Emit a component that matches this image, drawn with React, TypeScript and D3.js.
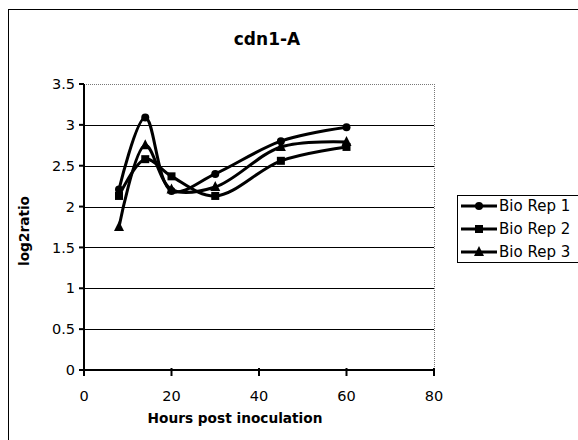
import React from "react";
import * as d3 from "d3";

const hours = [8, 14, 20, 30, 45, 60];
const rep1 = [2.21, 3.09, 2.19, 2.4, 2.8, 2.97];
const rep2 = [2.13, 2.58, 2.37, 2.13, 2.56, 2.73];
const rep3 = [1.75, 2.75, 2.21, 2.24, 2.73, 2.79];
const seriesNames = ["Bio Rep 1", "Bio Rep 2", "Bio Rep 3"];
const markerTypes = ["circle", "square", "triangle"];
const xTicks = [0, 20, 40, 60, 80];
const yTicks = [0, 0.5, 1, 1.5, 2, 2.5, 3, 3.5];

const W = 578;
const H = 440;
const font = "'DejaVu Sans', Verdana, sans-serif";

function Marker({ type, x, y }: { type: string; x: number; y: number }) {
  if (type === "circle") return <circle cx={x} cy={y} r={4} fill="#000" />;
  if (type === "square") return <rect x={x - 4} y={y - 4} width={8} height={8} fill="#000" />;
  const s = 5;
  return <path d={`M${x},${y - s - 1}L${x + s},${y + s - 1}L${x - s},${y + s - 1}Z`} fill="#000" />;
}

export default function App() {
  const x = d3.scaleLinear().domain([0, 80]).range([84, 434]);
  const y = d3.scaleLinear().domain([0, 3.5]).range([370, 84]);
  const series = [rep1, rep2, rep3];
  const line = d3
    .line<number>()
    .x((_, i) => x(hours[i]))
    .y((d) => y(d))
    .curve(d3.curveCatmullRom.alpha(0.5));

  return (
    <svg width={W} height={H} style={{ position: "absolute", left: 0, top: 0, background: "#fff" }}>
      <rect x={8.5} y={9.5} width={W} height={H} fill="#fff" stroke="#000" strokeWidth={1} />
      <text x={267} y={45} textAnchor="middle" fontFamily={font} fontWeight="bold" fontSize={17}>
        cdn1-A
      </text>
      {/* plot border */}
      <line x1={84} x2={434.5} y1={84.5} y2={84.5} stroke="#777" strokeDasharray="1,1" />
      <line x1={434.5} x2={434.5} y1={84} y2={370} stroke="#777" strokeDasharray="1,1" />
      {/* gridlines */}
      {yTicks.slice(1, -1).map((t) => (
        <line key={t} x1={84} x2={434} y1={Math.round(y(t)) + 0.5} y2={Math.round(y(t)) + 0.5} stroke="#000" strokeWidth={1} />
      ))}
      {/* axes */}
      <line x1={84} x2={84} y1={84} y2={371} stroke="#000" strokeWidth={2} />
      <line x1={83} x2={435} y1={370} y2={370} stroke="#000" strokeWidth={2} />
      {yTicks.map((t) => (
        <g key={t}>
          <line x1={79} x2={84} y1={y(t)} y2={y(t)} stroke="#000" strokeWidth={2} />
          <text x={75} y={y(t)} dy="0.35em" textAnchor="end" fontFamily={font} fontSize={14.5}>
            {t}
          </text>
        </g>
      ))}
      {xTicks.map((t) => (
        <g key={t}>
          <line x1={x(t)} x2={x(t)} y1={368} y2={376} stroke="#000" strokeWidth={2} />
          <text x={x(t)} y={401} textAnchor="middle" fontFamily={font} fontSize={14.5}>
            {t}
          </text>
        </g>
      ))}
      <text x={235} y={423} textAnchor="middle" fontFamily={font} fontWeight="bold" fontSize={13.7}>
        Hours post inoculation
      </text>
      <text
        transform={`translate(29,${231}) rotate(-90)`}
        textAnchor="middle"
        fontFamily={font}
        fontWeight="bold"
        fontSize={13.7}
      >
        log2ratio
      </text>
      {/* series */}
      {series.map((s, si) => (
        <g key={si}>
          <path d={line(s) || ""} fill="none" stroke="#000" strokeWidth={3} />
          {s.map((v, i) => (
            <Marker key={i} type={markerTypes[si]} x={x(hours[i])} y={y(v)} />
          ))}
        </g>
      ))}
      {/* legend */}
      <rect x={457.5} y={195.5} width={130} height={67} fill="#fff" stroke="#000" strokeWidth={1} />
      {seriesNames.map((n, i) => {
        const ly = 206 + i * 23;
        return (
          <g key={n}>
            <line x1={461} x2={497} y1={ly} y2={ly} stroke="#000" strokeWidth={3} />
            <Marker type={markerTypes[i]} x={479} y={ly} />
            <text x={499} y={ly} dy="0.35em" fontFamily={font} fontSize={15}>
              {n}
            </text>
          </g>
        );
      })}
    </svg>
  );
}
